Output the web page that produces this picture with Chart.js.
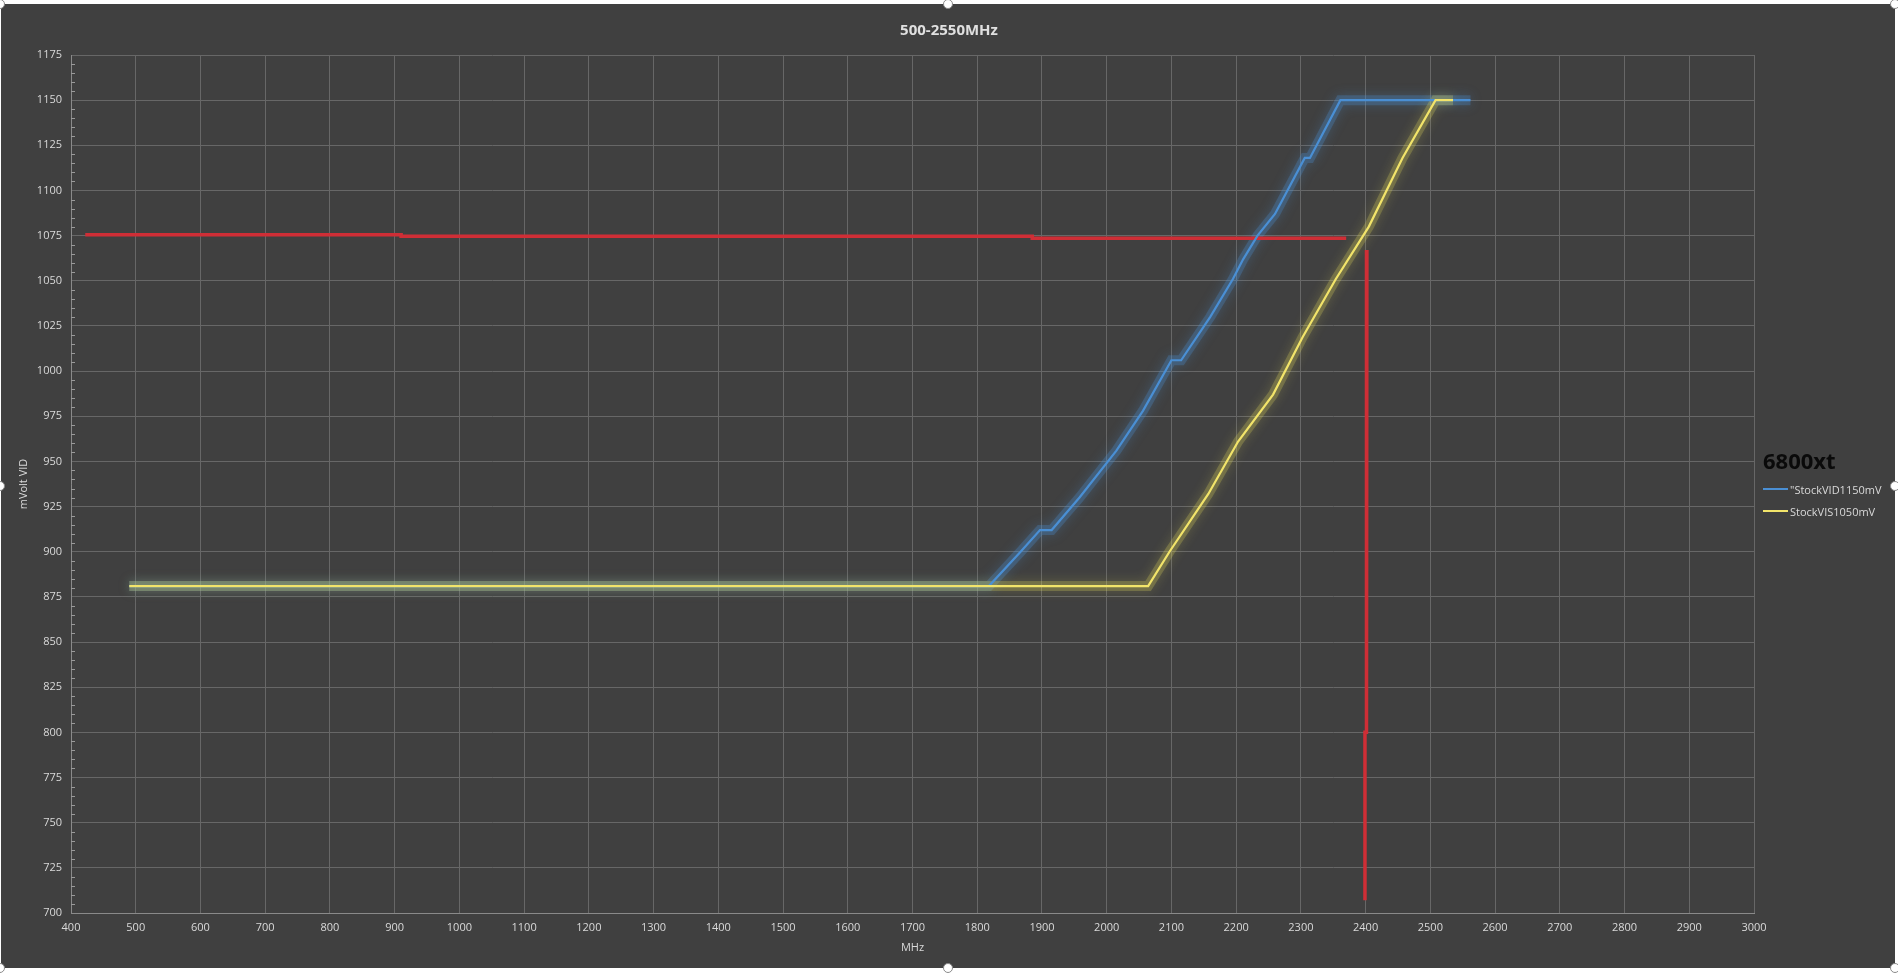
<!DOCTYPE html>
<html>
<head>
<meta charset="utf-8">
<script src="https://cdn.jsdelivr.net/npm/chart.js@4.4.1/dist/chart.umd.min.js"></script>
<style>
body { margin: 0; background: #ffffff; width: 1898px; height: 976px; overflow: hidden; font-family: 'Open Sans', sans-serif; }
#frame { position: absolute; left: 1px; top: 4px; width: 1894px; height: 964px; background: #404040; }
#grafico { position: absolute; left: 0; top: 0; }
#titulo { position: absolute; left: 0; width: 1898px; top: 19px; text-align: center; color: #e0e0e0; font-size: 15px; font-weight: 700; }
#legenda { position: absolute; left: 1763px; top: 446px; }
#legenda .lt { color: #0a0a0a; font-size: 22px; font-weight: 700; line-height: 28px; margin-bottom: 4px; }
#legenda .item { display: flex; align-items: center; height: 22px; color: #d9d9d9; font-size: 11px; }
#legenda .item span { display: inline-block; width: 25px; height: 2px; margin-right: 2px; }
.handle { position: absolute; width: 8px; height: 8px; border-radius: 50%; background: #fff; border: 1px solid #8a8a8a; }
</style>
</head>
<body>
<div id="frame"><canvas id="grafico" width="1894" height="964"></canvas></div>
<div id="titulo">500-2550MHz</div>
<div id="legenda"><div class="lt">6800xt</div><div id="itens"></div></div>
<div class="handle" style="left:-5px;top:-1px"></div>
<div class="handle" style="left:943px;top:-1px"></div>
<div class="handle" style="left:1890px;top:-1px"></div>
<div class="handle" style="left:-5px;top:481px"></div>
<div class="handle" style="left:1890px;top:481px"></div>
<div class="handle" style="left:-5px;top:963px"></div>
<div class="handle" style="left:943px;top:963px"></div>
<div class="handle" style="left:1890px;top:963px"></div>
<script>
// eixo X (MHz) e eixo Y (mV)
var xMin = 400, xMax = 3000, xStep = 100;
var yMin = 700, yMax = 1175, yStep = 25;

// "StockVID1150mV
var vidMhz = [490, 1818, 1867, 1897, 1915, 1958, 2015, 2056, 2100, 2115, 2160, 2195, 2211, 2233, 2260, 2306, 2314, 2361, 2562];
var vidMv  = [881, 881, 900, 912, 912, 930, 956, 978, 1006, 1006, 1030, 1051, 1062, 1075, 1087, 1118, 1118, 1150, 1150];

// StockVIS1050mV
var visMhz = [490, 2064, 2097, 2157, 2203, 2257, 2303, 2354, 2405, 2457, 2508, 2535];
var visMv  = [881, 881, 900, 932, 961, 987, 1019, 1051, 1080, 1118, 1150, 1150];

// linhas vermelhas (sem legenda)
var redHMhz = [422, 910, 910, 1885, 1885, 2370];
var redHMv  = [1075.5, 1075.5, 1074.7, 1074.7, 1073.6, 1073.6];
var redVMhz = [2402, 2402, 2401, 2401, 2399, 2399];
var redVMv  = [1067, 977, 977, 800, 800, 707];

function pontos(xs, ys) {
    return xs.map(function (x, i) { return { x: x, y: ys[i] }; });
}

// brilho (glow) do Excel: linha larga translucida com sombra
var brilho = {
    id: 'brilho',
    beforeDatasetDraw: function (chart, args) {
        var ds = chart.data.datasets[args.index];
        if (!ds.glowColor) return;
        chart.ctx.save();
        chart.ctx.shadowColor = ds.glowColor;
        chart.ctx.shadowBlur = 12;
    },
    afterDatasetDraw: function (chart, args) {
        var ds = chart.data.datasets[args.index];
        if (!ds.glowColor) return;
        chart.ctx.restore();
    }
};

var minorTicks = {
    id: 'minorTicks',
    afterDraw: function (chart) {
        var y = chart.scales.y, ctx = chart.ctx;
        ctx.save();
        ctx.strokeStyle = '#9a9a9a';
        ctx.lineWidth = 1;
        for (var v = yMin; v <= yMax; v += 5) {
            if (v % yStep === 0) continue;
            var py = Math.round(y.getPixelForValue(v)) + 0.5;
            ctx.beginPath();
            ctx.moveTo(y.right, py);
            ctx.lineTo(y.right + 4, py);
            ctx.stroke();
        }
        ctx.restore();
    }
};

var dados = {
    datasets: [
        { label: '"StockVID1150mV', data: pontos(vidMhz, vidMv), borderColor: '#4a8fd4', borderWidth: 2.2, order: 2, legenda: true },
        { label: 'StockVIS1050mV', data: pontos(visMhz, visMv), borderColor: '#f2e46a', borderWidth: 2.2, order: 1, legenda: true },
        { label: 'glowVID', data: pontos(vidMhz, vidMv), borderColor: 'rgba(74,143,212,0.28)', glowColor: 'rgba(74,143,212,0.9)', borderWidth: 10, order: 5 },
        { label: 'glowVIS', data: pontos(visMhz, visMv), borderColor: 'rgba(230,220,90,0.24)', glowColor: 'rgba(230,220,90,0.8)', borderWidth: 10, order: 4 },
        { label: 'red1', data: pontos(redHMhz, redHMv), borderColor: '#cf2e36', borderWidth: 3.5, order: 3 },
        { label: 'red2', data: pontos(redVMhz, redVMv), borderColor: '#cf2e36', borderWidth: 3.5, order: 3 }
    ]
};

var corTexto = '#d9d9d9';
var corGrade = '#676767';
var fonte = { family: 'Open Sans', size: 11 };

new Chart(document.getElementById('grafico'), {
    type: 'line',
    data: dados,
    options: {
        responsive: false,
        animation: false,
        layout: { padding: { top: 51, right: 141, left: 0, bottom: 0 } },
        elements: { point: { radius: 0 }, line: { tension: 0 } },
        plugins: { legend: { display: false }, tooltip: { enabled: false } },
        scales: {
            x: {
                type: 'linear', min: xMin, max: xMax,
                afterFit: function (s) { s.height = 55; },
                ticks: { stepSize: xStep, color: corTexto, font: fonte, padding: 8, maxRotation: 0, format: { useGrouping: false } },
                grid: { color: corGrade, drawTicks: false },
                border: { color: '#8a8a8a' },
                title: { display: true, text: 'MHz', color: corTexto, font: fonte, padding: { top: 0, bottom: 14 } }
            },
            y: {
                type: 'linear', min: yMin, max: yMax,
                afterFit: function (s) { s.width = 70; },
                ticks: { stepSize: yStep, color: corTexto, font: fonte, padding: 9, format: { useGrouping: false } },
                grid: { color: corGrade, drawTicks: false },
                border: { color: '#8a8a8a' },
                title: { display: true, text: 'mVolt VID', color: corTexto, font: fonte, padding: { top: 16, bottom: 0 } }
            }
        }
    },
    plugins: [brilho, minorTicks]
});

var itens = document.getElementById('itens');
dados.datasets.forEach(function (ds) {
    if (!ds.legenda) return;
    var d = document.createElement('div');
    d.className = 'item';
    d.innerHTML = '<span style="background:' + ds.borderColor + '"></span>' + ds.label;
    itens.appendChild(d);
});
</script>
</body>
</html>
